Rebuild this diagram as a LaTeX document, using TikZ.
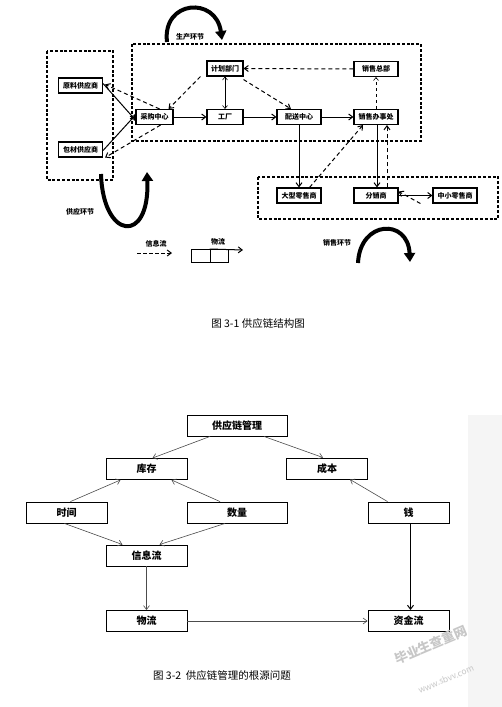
\documentclass[tikz,border=0pt]{standalone}
\usepackage{fontspec}
\setmainfont{Noto Sans CJK SC}
\usetikzlibrary{arrows.meta}
\begin{document}
\begin{tikzpicture}[x=1pt,y=-1pt,
  tb/.style={draw,line width=1.1pt,minimum width=44pt,minimum height=15pt,inner sep=0pt,font=\bfseries\fontsize{7}{8}\selectfont},
  frame/.style={draw,line width=1.2pt,dash pattern=on 3pt off 1.8pt},
  sa/.style={line width=1pt,-{Straight Barb[length=4pt,width=6pt]}},
  da/.style={line width=1pt,dash pattern=on 4pt off 3pt,-{Straight Barb[length=4pt,width=6pt]}},
  bigarc/.style={line width=4pt,-{Triangle[length=9pt,width=11pt]}},
  lbl/.style={font=\bfseries\fontsize{7}{8}\selectfont,inner sep=0pt},
  bb/.style={draw,line width=0.9pt,minimum width=81pt,minimum height=21pt,inner sep=0pt,font=\bfseries\fontsize{10}{12}\selectfont},
  ga/.style={line width=0.6pt,draw=black!70,-{Straight Barb[length=4pt,width=6pt]}},
  captxt/.style={font=\fontsize{10.5}{12}\selectfont,inner sep=0pt}]
\useasboundingbox (0,0) rectangle (502,707);
\fill[white] (0,0) rectangle (502,707);
\fill[black!4] (468,415) rectangle (502,707);
% frames
\draw[frame] (47,51) rectangle (113,180);
\draw[frame] (132,44) rectangle (421,141);
\draw[frame] (258,177) rectangle (498,219);
\node[lbl] (lsc) at (190,37) {生产环节};
\node[lbl] (lgy) at (80,212) {供应环节};
\node[lbl] (lxs) at (337,243) {销售环节};
% nodes
\node[tb] (yl) at (80.5,85.5) {原料供应商};
\node[tb] (bc) at (80.5,149.5) {包材供应商};
\node[tb,minimum width=37pt] (cg) at (154.5,117) {采购中心};
\node[tb,minimum width=36pt] (gc) at (225,117) {工厂};
\node[tb,minimum width=36pt] (jh) at (225,68.5) {计划部门};
\node[tb] (ps) at (299,117) {配送中心};
\node[tb] (xb) at (376,117) {销售办事处};
\node[tb] (zb) at (376,69) {销售总部};
\node[tb] (dx) at (299,195.5) {大型零售商};
\node[tb] (fx) at (376,195.5) {分销商};
\node[tb] (zx) at (455,195.5) {中小零售商};
% solid flows
\draw[sa] ([yshift=2pt]yl.east) -- ([yshift=-3pt]cg.west);
\draw[sa] ([yshift=-1pt]bc.east) -- ([yshift=2pt]cg.west);
\draw[sa] (cg) -- (gc);
\draw[sa] (gc) -- (ps);
\draw[sa] (ps) -- (xb);
\draw[sa] (ps.south) -- (dx.north);
\draw[sa] ([xshift=1pt]xb.south) -- ([xshift=1pt]fx.north);
\draw[sa] (fx) -- (zx);
\draw[line width=0.6pt,{Straight Barb[length=3pt,width=5pt]}-{Straight Barb[length=3pt,width=5pt]}] (jh) -- (gc);
% dashed info flows
\draw[da] ([xshift=-14pt]cg.north east) -- ([xshift=2pt,yshift=-7pt]yl.north east);
\draw[da] ([xshift=-13pt]cg.south east) -- ([xshift=2pt]bc.south east);
\draw[da] ([xshift=-6pt]jh.south west) -- ([xshift=-5pt]cg.north east);
\draw[da] (zb.west) -- (jh.east);
\draw[da] ([yshift=-3pt]jh.south east) -- ([xshift=-8pt]ps.north);
\draw[line width=0.6pt,dash pattern=on 3pt off 3pt,-{Straight Barb[length=3pt,width=5pt]}] (xb.north) -- (zb.south);
\draw[da] ([xshift=-12pt]dx.north east) -- ([xshift=-13pt]xb.south);
\draw[da] ([xshift=11pt]fx.north) -- ([xshift=11pt]xb.south);
\draw[da] ([xshift=-12pt]zx.south west) -- ([yshift=4pt]fx.east);
% big curved arrows
\coordinate (a1) at (167,42); \coordinate (a2) at (222,40);
\draw[bigarc] (a1) .. controls (162,0) and (216,-4) .. (a2);
\coordinate (b1) at (101,174); \coordinate (b2) at (147,172);
\draw[bigarc] (b1) .. controls (103,240) and (150,245) .. (b2);
\coordinate (c1) at (358,263); \coordinate (c2) at (410,262);
\draw[bigarc] (c1) .. controls (360,220) and (408,218) .. (c2);
% legend
\node[lbl] (lxx) at (156,244) {信息流};
\coordinate (x1) at (137,253); \coordinate (x2) at (172,253);
\draw[da,dash pattern=on 3.5pt off 2.5pt] (x1) -- (x2);
\node[lbl] (lwl) at (218,242) {物流};
\node[draw,line width=1pt,minimum width=19pt,minimum height=13pt,inner sep=0pt] (w1) at (200.5,256) {};
\node[draw,line width=1pt,minimum width=18pt,minimum height=13pt,inner sep=0pt] (w2) at (219,256) {};
\coordinate (w3) at (243,250);
\draw[sa] (w2.north west) -- (w3);
\node[captxt] (c31) at (258,323) {图 3-1 供应链结构图};
% ---- figure 3-2 ----
\node[bb,minimum width=100pt] (gl) at (237,425.5) {供应链管理};
\node[bb] (kc) at (146.5,469) {库存};
\node[bb] (cb) at (327,468.5) {成本};
\node[bb] (sj) at (66.5,512.5) {时间};
\node[bb,minimum width=100pt] (sl) at (237,512.5) {数量};
\node[bb] (qq) at (408.5,512.5) {钱};
\node[bb] (xx) at (146.5,555.5) {信息流};
\node[bb] (wl) at (146.5,621) {物流};
\node[bb] (zj) at (408.5,621) {资金流};
\draw[ga] ([xshift=-27pt]gl.south) -- ([xshift=6pt]kc.north);
\draw[ga] ([xshift=27pt]gl.south) -- ([xshift=-4pt]cb.north);
\draw[ga] ([xshift=4pt]sj.north) -- ([xshift=-26pt]kc.south);
\draw[ga] ([xshift=-17pt]sl.north) -- ([xshift=25pt]kc.south);
\draw[ga] ([xshift=-21pt]qq.north) -- ([xshift=23pt]cb.south);
\draw[ga] ([xshift=-2pt]sj.south) -- ([xshift=-24pt]xx.north);
\draw[ga] ([xshift=-12pt]sl.south) -- ([xshift=13pt]xx.north);
\draw[ga] (xx) -- (wl);
\draw[ga] (wl) -- (zj);
\draw[line width=1pt,-{Straight Barb[length=4pt,width=6pt]}] ([xshift=2pt]qq.south) -- ([xshift=2pt]zj.north);
\node[captxt] (c32) at (222,675) {图 3-2\ \ 供应链管理的根源问题};
% watermark
\node[rotate=23,text=black!22,font=\bfseries\fontsize{13}{14}\selectfont] (wm1) at (431,645) {毕业生查重网};
\node[rotate=23,text=black!22,font=\fontsize{8.5}{10}\selectfont] (wm2) at (446,679) {www.sbvv.com};
\end{tikzpicture}
\end{document}
